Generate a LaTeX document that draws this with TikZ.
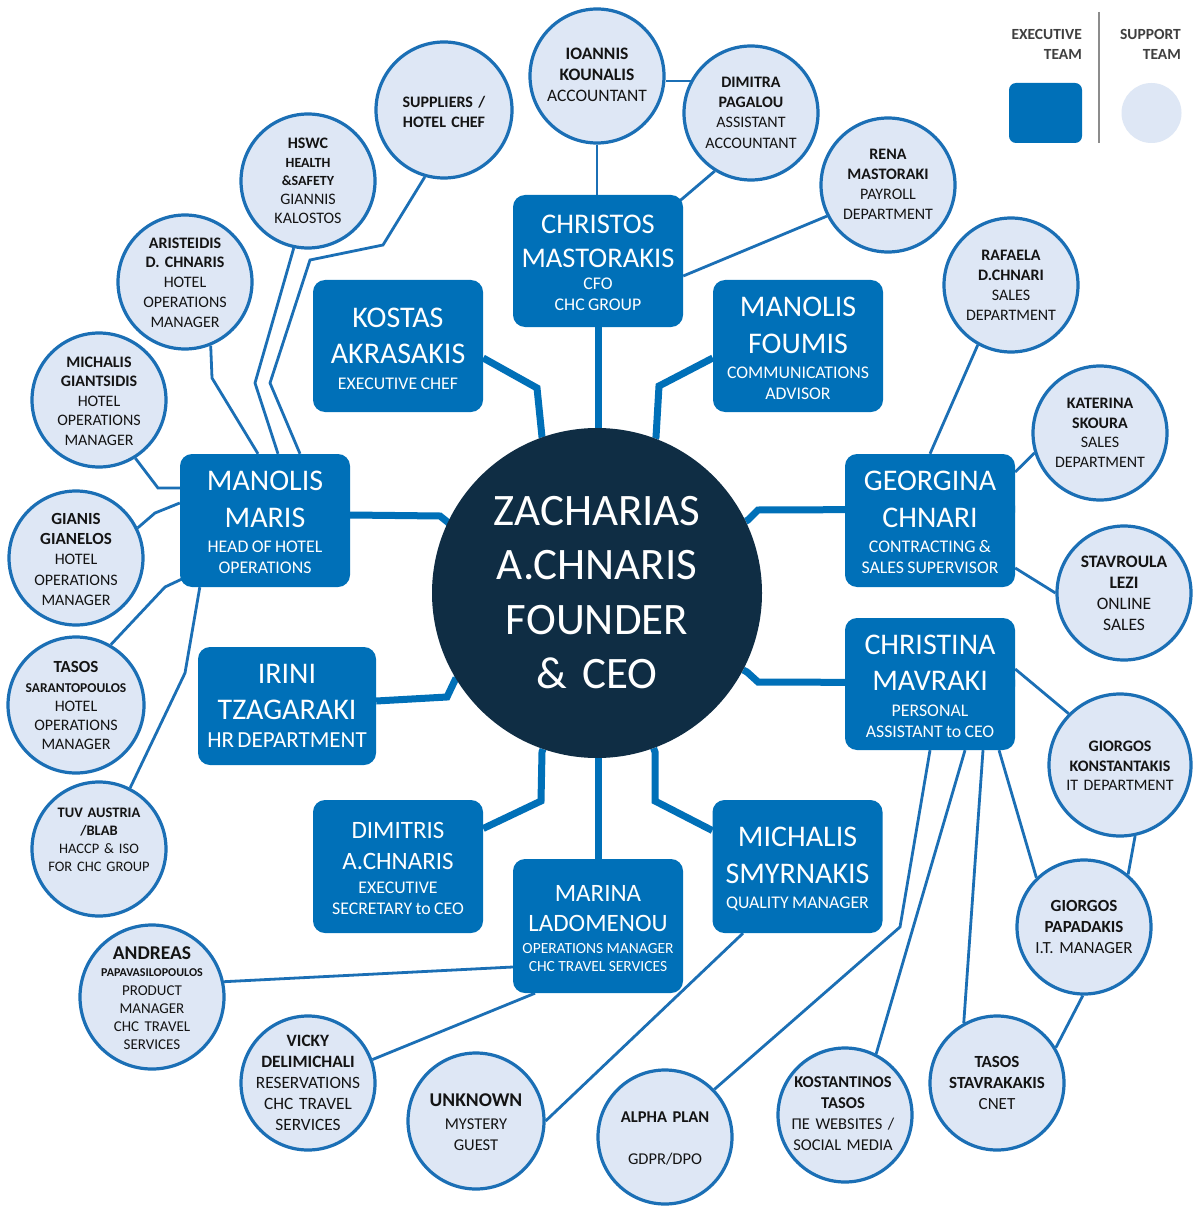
\documentclass[tikz,border=0pt]{standalone}
\usepackage{fontspec}
\setmainfont{Carlito}
\usetikzlibrary{calc}
\definecolor{execblue}{HTML}{0070B8}
\definecolor{lineblue}{HTML}{1B6FB5}
\definecolor{supfill}{HTML}{DEE7F5}
\definecolor{ceonavy}{HTML}{0F2D44}
\definecolor{suptxt}{HTML}{141414}
\definecolor{leggray}{HTML}{3F3F3F}
\definecolor{divgray}{HTML}{8C8C8C}
\pgfdeclarelayer{bg}
\pgfsetlayers{bg,main}
\newcommand\fs[2]{\fontsize{#1}{#2}\selectfont}
\newcommand\nm{\fs{30}{36.5}}
\newcommand\sbt{\fs{17.8}{21}}
\newcommand\B[1]{\textbf{#1}}
\newcommand\dn[1]{\rule{0pt}{#1}}

\begin{document}
\begin{tikzpicture}[x=1pt,y=-1pt,
  para/.style={align=center, inner sep=0pt, execute at begin node={\parindent=0pt\centering}},
  exec/.style={para, rectangle, rounded corners=12pt, fill=execblue, text=white, text width=170pt, minimum height=132pt},
  sup/.style={circle, fill=supfill, draw=lineblue, line width=3.2pt, inner sep=0pt, minimum size=134pt},
  suptext/.style={para, text width=160pt, text=suptxt, font=\fs{16}{20}},
  trunk/.style={draw=execblue, line width=7pt},
  twig/.style={draw=lineblue, line width=2.8pt},
  legtext/.style={anchor=north east, align=right, inner sep=0pt, font=\bfseries\fs{15.5}{20}, text=leggray}
]
\useasboundingbox (0,0) rectangle (1200,1214);

% ---------- centre ----------
\node[circle, fill=ceonavy, minimum size=330pt, inner sep=0pt] (ceo) at (597,593) {};
\node[para, text width=300pt, text=white, font=\fs{45}{54.5}] (ceotext) at (597,592.5) {ZACHARIAS\par A.CHNARIS\par FOUNDER\par \& CEO\par};

% ---------- executive team ----------
\node[exec] (christos) at (598,261) {\fs{28.5}{33.5}\dn{23pt}CHRISTOS\par MASTORAKIS\par\vspace{1.5pt}\sbt CFO\par CHC GROUP\par};
\node[exec] (kostas) at (398,346) {\nm\dn{25pt}KOSTAS\par AKRASAKIS\par\vspace{4.5pt}\sbt EXECUTIVE CHEF\par};
\node[exec] (foumis) at (798,346) {\nm\dn{25pt}MANOLIS\par FOUMIS\par\vspace{4.5pt}\sbt COMMUNICATIONS\par ADVISOR\par};
\node[exec, minimum height=133pt] (maris) at (265,520.5) {\nm\dn{24pt}MANOLIS\par MARIS\par\vspace{4.5pt}\sbt HEAD OF HOTEL\par OPERATIONS\par};
\node[exec, minimum height=133pt] (georgina) at (930,520.5) {\nm\dn{24pt}GEORGINA\par CHNARI\par\vspace{4.5pt}\sbt CONTRACTING \&\par SALES SUPERVISOR\par};
\node[exec, text width=178pt, minimum height=118pt] (irini) at (287,706) {\nm IRINI\par TZAGARAKI\par\vspace{3pt}\fs{23}{25}HR DEPARTMENT\par};
\node[exec] (christina) at (930,684) {\nm\dn{24pt}CHRISTINA\par MAVRAKI\par\vspace{4.5pt}\sbt PERSONAL\par ASSISTANT to CEO\par};
\node[exec, minimum height=133pt] (dimitris) at (398,866.5) {\fs{25}{31}\dn{20pt}DIMITRIS\par A.CHNARIS\par\vspace{2.5pt}\fs{17.8}{21}EXECUTIVE\par SECRETARY to CEO\par};
\node[exec, minimum height=134pt] (marina) at (598,926) {\fs{25}{30}\dn{21pt}MARINA\par LADOMENOU\par\vspace{3.4pt}\fs{15.5}{18.3}OPERATIONS MANAGER\par CHC TRAVEL SERVICES\par};
\node[exec, minimum height=133pt] (michalis) at (797.5,866.5) {\nm\dn{25pt}MICHALIS\par SMYRNAKIS\par\vspace{4.5pt}\sbt QUALITY MANAGER\par};

% ---------- support team ----------
\node[sup, minimum size=136pt] (suppliers) at (444,110) {};
\node[suptext] (t-suppliers) at (444,112) {\B{SUPPLIERS /}\par\B{HOTEL CHEF}\par};
\node[sup] (ioannis) at (597,76) {};
\node[suptext, font=\fs{17.5}{21}] (t-ioannis) at (597,75) {\B{IOANNIS}\par\B{KOUNALIS}\par ACCOUNTANT\par};
\node[sup] (dimitra) at (751,113) {};
\node[suptext, font=\fs{16}{20.3}] (t-dimitra) at (751,112.5) {\B{DIMITRA}\par\B{PAGALOU}\par ASSISTANT\par ACCOUNTANT\par};
\node[sup] (rena) at (888,185) {};
\node[suptext] (t-rena) at (888,184) {\B{RENA}\par\B{MASTORAKI}\par PAYROLL\par DEPARTMENT\par};
\node[sup] (rafaela) at (1011,285) {};
\node[suptext] (t-rafaela) at (1011,285.5) {\B{RAFAELA}\par\B{D.CHNARI}\par SALES\par DEPARTMENT\par};
\node[sup] (katerina) at (1100,433) {};
\node[suptext, font=\fs{16}{19.5}] (t-katerina) at (1100,433) {\B{KATERINA}\par\B{SKOURA}\par SALES\par DEPARTMENT\par};
\node[sup] (stavroula) at (1124,593) {};
\node[suptext, font=\fs{17.5}{21}] (t-stavroula) at (1124,593.5) {\B{STAVROULA}\par\B{LEZI}\par ONLINE\par SALES\par};
\node[sup, minimum size=142pt] (konstantakis) at (1120,765) {};
\node[suptext, font=\fs{16}{19.5}] (t-konstantakis) at (1120,766) {\B{GIORGOS}\par\B{KONSTANTAKIS}\par IT DEPARTMENT\par};
\node[sup] (papadakis) at (1084,927) {};
\node[suptext, font=\fs{17}{21}] (t-papadakis) at (1084,927) {\B{GIORGOS}\par\B{PAPADAKIS}\par I.T. MANAGER\par};
\node[sup] (stavrakakis) at (997,1083) {};
\node[suptext, font=\fs{17}{21}] (t-stavrakakis) at (997,1083) {\B{TASOS}\par\B{STAVRAKAKIS}\par CNET\par};
\node[sup] (kostantinos) at (845,1115) {};
\node[suptext, font=\fs{16.5}{21}] (t-kostantinos) at (843,1113.5) {\B{KOSTANTINOS}\par\B{TASOS}\par ΠΕ WEBSITES /\par SOCIAL MEDIA\par};
\node[sup] (alpha) at (665,1137) {};
\node[suptext, font=\fs{16.5}{21}] (t-alpha) at (665,1138) {\B{ALPHA PLAN}\par\mbox{}\par GDPR/DPO\par};
\node[sup, minimum size=136pt] (unknown) at (476,1121) {};
\node[suptext] (t-unknown) at (476,1122) {\fs{19.5}{23}\B{UNKNOWN}\par\vspace{2pt}\fs{16.5}{21}MYSTERY\par GUEST\par};
\node[sup] (vicky) at (308,1083) {};
\node[suptext, font=\fs{17.3}{21}] (t-vicky) at (308,1082.5) {\B{VICKY}\par\B{DELIMICHALI}\par RESERVATIONS\par CHC TRAVEL\par SERVICES\par};
\node[sup, minimum size=144pt] (andreas) at (152,997) {};
\node[suptext] (t-andreas) at (152,998) {\fs{19.5}{22}\B{ANDREAS}\par\fs{12}{17}\B{PAPAVASILOPOULOS}\par\vspace{1pt}\fs{15}{18}PRODUCT\par MANAGER\par CHC TRAVEL\par SERVICES\par};
\node[sup] (tuv) at (99,849) {};
\node[suptext, font=\fs{14.5}{18}] (t-tuv) at (99,840) {\B{TUV AUSTRIA}\par\B{/BLAB}\par HACCP \& ISO\par FOR CHC GROUP\par};
\node[sup, minimum size=136pt] (sarantopoulos) at (76,705) {};
\node[suptext] (t-sarantopoulos) at (76,705.5) {\fs{17}{20}\B{TASOS}\par\fs{13.5}{20}\B{SARANTOPOULOS}\par\fs{16}{18.5}HOTEL\par\vspace{1pt}OPERATIONS\par MANAGER\par};
\node[sup] (gianelos) at (76,558) {};
\node[suptext] (t-gianelos) at (76,559.5) {\fs{17}{20}\B{GIANIS}\par\B{GIANELOS}\par\fs{16}{20.3}HOTEL\par OPERATIONS\par MANAGER\par};
\node[sup] (giantsidis) at (99,400) {};
\node[suptext, font=\fs{16}{19.5}] (t-giantsidis) at (99,401) {\B{MICHALIS}\par\B{GIANTSIDIS}\par HOTEL\par OPERATIONS\par MANAGER\par};
\node[sup] (aristeidis) at (185,282) {};
\node[suptext, font=\fs{16}{19.8}] (t-aristeidis) at (185,282.5) {\B{ARISTEIDIS}\par\B{D. CHNARIS}\par HOTEL\par OPERATIONS\par MANAGER\par};
\node[sup] (hswc) at (308,181) {};
\node[suptext] (t-hswc) at (308,181) {\fs{16}{19}\B{HSWC}\par\fs{14}{18.5}\B{HEALTH}\par\B{\&SAFETY}\par\fs{16}{19}GIANNIS\par KALOSTOS\par};

% ---------- legend ----------
\node[legtext] (exlab) at (1082,29) {EXECUTIVE\\TEAM};
\node[legtext] (splab) at (1181,29) {SUPPORT\\TEAM};
\node[rectangle, rounded corners=7pt, fill=execblue, minimum width=73pt, minimum height=60pt, inner sep=0pt] (exkey) at (1045.5,113) {};
\node[circle, fill=supfill, minimum size=60pt, inner sep=0pt] (supkey) at (1151.5,113) {};
\draw[divgray, line width=2pt] (1099,12) -- (1099,143);

% ---------- connectors ----------
\begin{pgfonlayer}{bg}
\fill[white] (0,0) rectangle (1200,1214);
% trunks from the CEO
\draw[trunk] (christos) -- (christos |- ceo);
\draw[trunk] ([yshift=-12pt]kostas.east) -- (537,388) -- (542,437) -- (ceo);
\draw[trunk] ([yshift=-12pt]foumis.west) -- (659,386) -- (656,437) -- (ceo);
\draw[trunk] ([yshift=5.5pt]maris.east) -- (440,516) -- (450,524) -- (ceo);
\draw[trunk] ([yshift=11.5pt]georgina.east) -- (758,510) -- (748,520) -- (ceo);
\draw[trunk] ([yshift=5pt]irini.east) -- (447,697) -- (456,678) -- (ceo);
\draw[trunk] ([yshift=1pt]christina.east) -- (758,682) -- (747,672) -- (ceo);
\draw[trunk] ([yshift=38pt]dimitris.east) -- (541,801) -- (542,752) -- (ceo);
\draw[trunk] (marina) -- (marina |- ceo);
\draw[trunk] ([yshift=36pt]michalis.west) -- (655,801) -- (655,752) -- (ceo);
% twigs to the support team
\draw[twig] (ioannis) -- (ioannis |- christos);
\draw[twig] ([yshift=-5pt]ioannis.east) -- ([yshift=-5pt]ioannis.east -| dimitra);
\draw[twig] (dimitra.238) -- ([xshift=-8pt,yshift=-10pt]christos.north east);
\draw[twig] (rena.207) -- ([yshift=-15pt]christos.east);
\draw[twig] (suppliers.254) -- (383,245) -- (310,260) -- (270,383) -- ([xshift=35pt]maris.north);
\draw[twig] (hswc.258) -- (255,383) -- ([xshift=13pt]maris.north);
\draw[twig] (aristeidis.292) -- (212,378) -- ([xshift=-7pt]maris.north);
\draw[twig] (giantsidis.302) -- (158,488) -- ([yshift=32.5pt]maris.west);
\draw[twig] (gianelos.26) -- (155,513) -- ([yshift=17.5pt]maris.west);
\draw[twig] (sarantopoulos.60) -- (165,587) -- ([xshift=6pt,yshift=10pt]maris.south west);
\draw[twig] ([xshift=20pt]maris.south west) -- (185,673) -- (tuv.63);
\draw[twig] (andreas.12) -- ([yshift=-41pt]marina.west);
\draw[twig] (vicky.20) -- ([xshift=-63pt]marina.south);
\draw[twig] (unknown.east) -- ([xshift=-54.5pt]michalis.south);
\draw[twig] (christina.south) -- (900,927) -- (alpha.44);
\draw[twig] ([xshift=35pt]christina.south) -- (kostantinos.63);
\draw[twig] ([xshift=53pt]christina.south) -- (stavrakakis.119);
\draw[twig] ([xshift=69pt]christina.south) -- (papadakis.134);
\draw[twig] ([yshift=15pt]christina.east) -- (konstantakis.135);
\draw[twig] (konstantakis.282) -- (papadakis.50);
\draw[twig] (papadakis.269) -- (stavrakakis.31);
\draw[twig] (rafaela.241) -- (georgina.north);
\draw[twig] (katerina.197) -- ([yshift=48.5pt]georgina.east);
\draw[twig] ([yshift=-47.5pt]georgina.east) -- (stavroula.west);
\end{pgfonlayer}
\end{tikzpicture}
\end{document}
